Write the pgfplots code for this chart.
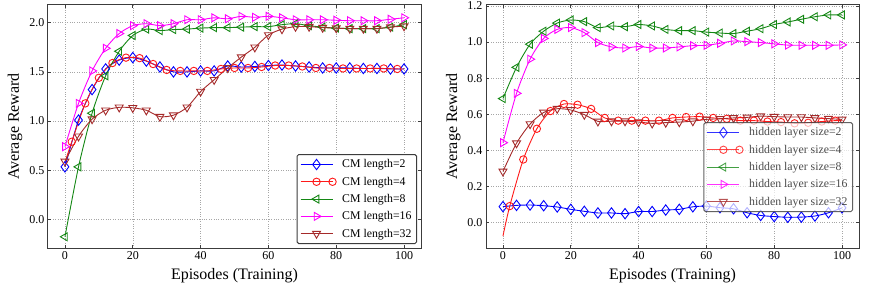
\documentclass[border=0pt]{standalone}
\usepackage{fontspec}
\setmainfont{Liberation Serif}
\usepackage{pgfplots}
\pgfplotsset{compat=1.18}
\definecolor{cBlue}{RGB}{0,0,255}
\definecolor{cRed}{RGB}{255,25,25}
\definecolor{cGreen}{RGB}{20,135,20}
\definecolor{cMag}{RGB}{255,0,255}
\definecolor{cBrown}{RGB}{165,42,42}
\definecolor{frcol}{RGB}{60,60,60}
\pgfplotsset{
 myaxis/.style={
  scale only axis, width=373pt, height=243pt,
  xmin=-5, xmax=105,
  xtick={0,20,40,60,80,100},
  axis line style={frcol, line width=1pt},
  tick align=inside, tick style={frcol, line width=0.6pt},
  major tick length=3pt,
  grid=major, grid style={dotted, gray!70, line width=0.5pt},
  ticklabel style={font=\fontsize{12}{14}\selectfont},
  /pgf/number format/assume math mode=true,
  label style={font=\fontsize{16}{18}\selectfont},
  xlabel={Episodes (Training)}, ylabel={Average Reward},
  xlabel style={at={(axis description cs:0.5,-0.115)}, anchor=center},
  ylabel style={at={(axis description cs:-0.088,0.5)}, anchor=center},
  yticklabel style={/pgf/number format/fixed, /pgf/number format/fixed zerofill, /pgf/number format/precision=1},
  legend cell align=left,
  legend style={font=\fontsize{11.8}{13}\selectfont, draw=frcol, line width=1pt, rounded corners=1.5pt, inner xsep=3pt, inner ysep=3pt, row sep=3.6pt, column sep=4pt},
  legend image code/.code={\draw[mark repeat=2, mark phase=2, #1] plot coordinates {(0pt,0pt) (16pt,0pt) (32pt,0pt)};},
 },
 s/.style={line width=0.9pt, smooth, tension=0.45},
 mD/.style={mark=diamond, mark options={solid, line width=0.9pt, mark size=5.2pt}},
 mO/.style={mark=o, mark options={solid, line width=0.9pt, mark size=3.7pt}},
 mL/.style={mark=triangle, mark options={solid, line width=0.9pt, mark size=4.6pt, rotate=90}},
 mR/.style={mark=triangle, mark options={solid, line width=0.9pt, mark size=4.6pt, rotate=-90}},
 mV/.style={mark=triangle, mark options={solid, line width=0.9pt, mark size=4.6pt, rotate=180}},
}
\begin{document}
\begin{tikzpicture}
\begin{axis}[myaxis, at={(0pt,0pt)}, ymin=-0.29, ymax=2.18, ytick={0,0.5,1,1.5,2},
  legend style={at={(axis description cs:1,0)}, anchor=south east, xshift=-4pt, yshift=4pt}]
\addplot[s, cBlue, mD] coordinates {(0,0.535)(4,1.01)(8,1.32)(12,1.53)(16,1.62)(20,1.645)(24,1.61)(28,1.55)(32,1.50)(36,1.50)(40,1.51)(44,1.51)(48,1.56)(52,1.55)(56,1.555)(60,1.565)(64,1.57)(68,1.56)(72,1.55)(76,1.54)(80,1.54)(84,1.54)(88,1.535)(92,1.535)(96,1.53)(100,1.53)};
\addlegendentry{CM length=2}
\addplot[s, cRed, mO, mark indices={2,3,4,5,6,7,8,9,10,11,12,13,14,15,16,17,18,19,20,21,22,23,24,25,26}] coordinates {(0,0.58)(2,0.79)(6,1.18)(10,1.44)(14,1.59)(18,1.645)(22,1.64)(26,1.58)(30,1.52)(34,1.51)(38,1.51)(42,1.51)(46,1.53)(50,1.54)(54,1.54)(58,1.55)(62,1.565)(66,1.565)(70,1.555)(74,1.54)(78,1.54)(82,1.535)(86,1.535)(90,1.535)(94,1.535)(98,1.53)(100,1.53)};
\addlegendentry{CM length=4}
\addplot[s, cGreen, mL] coordinates {(0,-0.176)(4,0.535)(8,1.08)(12,1.46)(16,1.71)(20,1.87)(24,1.935)(28,1.92)(32,1.93)(36,1.935)(40,1.945)(44,1.95)(48,1.95)(52,1.955)(56,1.96)(60,1.96)(64,1.98)(68,1.99)(72,1.97)(76,1.955)(80,1.945)(84,1.94)(88,1.94)(92,1.94)(96,1.955)(100,1.98)};
\addlegendentry{CM length=8}
\addplot[s, cMag, mR] coordinates {(0,0.74)(4,1.18)(8,1.51)(12,1.74)(16,1.89)(20,1.97)(24,1.99)(28,1.97)(32,1.99)(36,2.03)(40,2.03)(44,2.05)(48,2.04)(52,2.065)(56,2.055)(60,2.065)(64,2.05)(68,2.03)(72,2.03)(76,2.03)(80,2.025)(84,2.02)(88,2.02)(92,2.02)(96,2.035)(100,2.05)};
\addlegendentry{CM length=16}
\addplot[s, cBrown, mV] coordinates {(0,0.59)(4,0.845)(8,1.02)(12,1.11)(16,1.14)(20,1.135)(24,1.11)(28,1.045)(32,1.06)(36,1.14)(40,1.30)(44,1.42)(48,1.54)(52,1.65)(56,1.75)(60,1.875)(64,1.935)(68,1.96)(72,1.96)(76,1.95)(80,1.945)(84,1.94)(88,1.94)(92,1.94)(96,1.955)(100,1.965)};
\addlegendentry{CM length=32}
\end{axis}
\begin{axis}[myaxis, at={(438pt,0pt)}, ymin=-0.14, ymax=1.205, ytick={0,0.2,0.4,0.6,0.8,1.0,1.2},
  legend style={at={(axis description cs:1,0)}, anchor=south east, xshift=-6pt, yshift=36pt, fill opacity=0.7, draw opacity=0.8, text opacity=0.7}]
\addplot[s, cBlue, mD] coordinates {(0,0.089)(4,0.096)(8,0.098)(12,0.094)(16,0.087)(20,0.074)(24,0.063)(28,0.054)(32,0.054)(36,0.05)(40,0.062)(44,0.062)(48,0.07)(52,0.074)(56,0.088)(60,0.092)(64,0.083)(68,0.077)(72,0.055)(76,0.04)(80,0.034)(84,0.03)(88,0.031)(92,0.037)(96,0.055)(100,0.082)};
\addlegendentry{hidden layer size=2}
\addplot[s, cRed, mO, mark indices={2,3,4,5,6,7,8,9,10,11,12,13,14,15,16,17,18,19,20,21,22,23,24,25,26}] coordinates {(0,-0.074)(2,0.092)(6,0.35)(10,0.52)(14,0.618)(18,0.657)(22,0.653)(26,0.63)(30,0.58)(34,0.565)(38,0.565)(42,0.565)(46,0.565)(50,0.58)(54,0.585)(58,0.587)(62,0.58)(66,0.575)(70,0.565)(74,0.565)(78,0.56)(82,0.557)(86,0.55)(90,0.553)(94,0.56)(98,0.565)(100,0.567)};
\addlegendentry{hidden layer size=4}
\addplot[s, cGreen, mL] coordinates {(0,0.687)(4,0.86)(8,0.988)(12,1.06)(16,1.105)(20,1.122)(24,1.113)(28,1.08)(32,1.089)(36,1.085)(40,1.097)(44,1.089)(48,1.07)(52,1.063)(56,1.063)(60,1.055)(64,1.05)(68,1.047)(72,1.06)(76,1.074)(80,1.097)(84,1.111)(88,1.126)(92,1.14)(96,1.15)(100,1.15)};
\addlegendentry{hidden layer size=8}
\addplot[s, cMag, mR] coordinates {(0,0.443)(4,0.716)(8,0.905)(12,1.02)(16,1.07)(20,1.08)(24,1.052)(28,0.997)(32,0.973)(36,0.967)(40,0.975)(44,0.967)(48,0.967)(52,0.973)(56,0.98)(60,0.982)(64,0.993)(68,1.006)(72,1.002)(76,0.997)(80,0.99)(84,0.983)(88,0.982)(92,0.982)(96,0.982)(100,0.984)};
\addlegendentry{hidden layer size=16}
\addplot[s, cBrown, mV] coordinates {(0,0.284)(4,0.44)(8,0.546)(12,0.61)(16,0.631)(20,0.624)(24,0.598)(28,0.561)(32,0.562)(36,0.562)(40,0.557)(44,0.55)(48,0.554)(52,0.557)(56,0.562)(60,0.572)(64,0.575)(68,0.58)(72,0.583)(76,0.59)(80,0.587)(84,0.585)(88,0.585)(92,0.58)(96,0.576)(100,0.572)};
\addlegendentry{hidden layer size=32}
\end{axis}
\pgfresetboundingbox
\path[use as bounding box] (-48pt,-52pt) rectangle (825pt,248pt);
\end{tikzpicture}
\end{document}
